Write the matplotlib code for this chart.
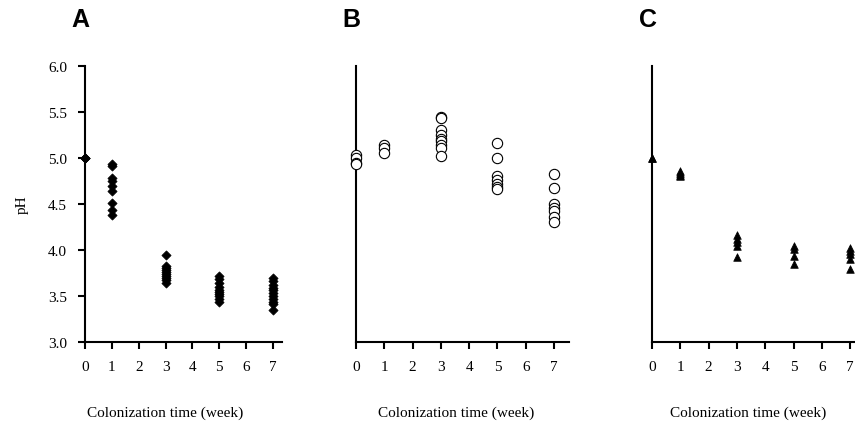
import matplotlib
matplotlib.use('Agg')
import matplotlib.pyplot as plt

plt.rcParams['font.family'] = 'Liberation Serif'
plt.rcParams['font.size'] = 11

# weeks and measured pH per panel
wk_a = [0] * 3 + [1] * 9 + [3] * 10 + [5] * 10 + [7] * 11
ph_a = [5.0, 5.0, 5.0,
        4.93, 4.91, 4.78, 4.75, 4.70, 4.64, 4.51, 4.43, 4.38,
        3.95, 3.83, 3.80, 3.78, 3.76, 3.74, 3.72, 3.70, 3.67, 3.64,
        3.72, 3.68, 3.64, 3.60, 3.57, 3.54, 3.52, 3.50, 3.47, 3.43,
        3.70, 3.66, 3.62, 3.59, 3.56, 3.53, 3.50, 3.47, 3.44, 3.41, 3.35]

wk_b = [0] * 4 + [1] * 3 + [3] * 9 + [5] * 7 + [7] * 7
ph_b = [5.03, 5.00, 4.95, 4.93,
        5.14, 5.11, 5.05,
        5.45, 5.43, 5.30, 5.25, 5.21, 5.19, 5.14, 5.11, 5.02,
        5.16, 5.00, 4.80, 4.76, 4.72, 4.69, 4.66,
        4.83, 4.67, 4.50, 4.46, 4.42, 4.36, 4.31]

wk_c = [0] * 2 + [1] * 4 + [3] * 5 + [5] * 4 + [7] * 5
ph_c = [5.0, 5.0,
        4.86, 4.84, 4.82, 4.81,
        4.16, 4.12, 4.09, 4.04, 3.92,
        4.04, 4.01, 3.94, 3.85,
        4.02, 3.99, 3.96, 3.90, 3.79]

xticks = [0, 1, 2, 3, 4, 5, 6, 7]
yticks = [3.0, 3.5, 4.0, 4.5, 5.0, 5.5, 6.0]

fig = plt.figure(figsize=(8.55, 4.27), dpi=100)

panels = [
    # letter, rect, xmax, x, y, marker style
    ('A', [0.0994, 0.1967, 0.2310, 0.6463], 7.35, wk_a, ph_a,
     dict(marker='D', s=22, facecolor='black', edgecolor='black', lw=0.5)),
    ('B', [0.4164, 0.1967, 0.2491, 0.6463], 7.53, wk_b, ph_b,
     dict(marker='o', s=55, facecolor='white', edgecolor='black', lw=0.8)),
    ('C', [0.7626, 0.1967, 0.2374, 0.6463], 7.17, wk_c, ph_c,
     dict(marker='^', s=30, facecolor='black', edgecolor='black', lw=0.5)),
]

for i, (lab, rect, xmax, xs, ys, mk) in enumerate(panels):
    ax = fig.add_axes(rect)
    ax.scatter(xs, ys, clip_on=False, zorder=3, **mk)
    ax.set_xlim(0, xmax)
    ax.set_ylim(3.0, 6.0)
    ax.spines['top'].set_visible(False)
    ax.spines['right'].set_visible(False)
    for s in ('left', 'bottom'):
        ax.spines[s].set_linewidth(1.5)
    ax.set_xticks(xticks)
    ax.tick_params(axis='x', direction='out', length=5, width=1.5, pad=8, labelsize=11)
    if i == 0:
        ax.set_yticks(yticks)
        ax.set_yticklabels([f'{v:.1f}' for v in yticks])
        ax.tick_params(axis='y', direction='out', length=5, width=1.5, pad=8, labelsize=11)
        ax.set_ylabel('pH', fontsize=11, labelpad=14)
    else:
        ax.set_yticks([])
    fig.text(rect[0] - 0.005, 0.953, lab, fontsize=18, weight='bold',
             family='Liberation Sans', ha='center', va='center')

fig.text(0.193, 0.032, 'Colonization time (week)', ha='center', va='center', fontsize=11)
fig.text(0.533, 0.032, 'Colonization time (week)', ha='center', va='center', fontsize=11)
fig.text(0.875, 0.032, 'Colonization time (week)', ha='center', va='center', fontsize=11)

fig.savefig('out.png', dpi=100, facecolor='white')
